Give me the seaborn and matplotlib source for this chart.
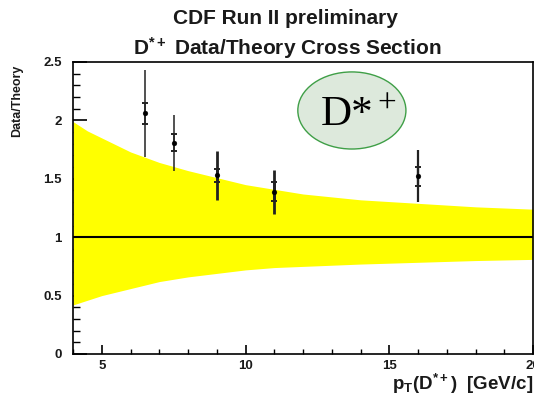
import numpy as np
import pandas as pd
import matplotlib
matplotlib.use("Agg")
import matplotlib.pyplot as plt
from matplotlib.patches import Ellipse
from matplotlib.ticker import MultipleLocator
import seaborn as sns

# Theory uncertainty band (Data/Theory = 1 +/- theory error)
band_pt = [4.0, 4.5, 5.0, 5.5, 6.0, 7.0, 8.0, 9.0, 10.0, 11.0, 12.0, 14.0, 16.0, 18.0, 20.0]
band_up = [1.99, 1.91, 1.85, 1.79, 1.73, 1.64, 1.57, 1.51, 1.45, 1.41, 1.37, 1.32, 1.29, 1.26, 1.24]
band_lo = [0.42, 0.46, 0.50, 0.53, 0.56, 0.62, 0.66, 0.69, 0.72, 0.74, 0.75, 0.77, 0.785, 0.80, 0.81]

# Measured Data/Theory ratios
pt = [6.5, 7.5, 9.0, 11.0, 16.0]
ratio = [2.06, 1.81, 1.53, 1.39, 1.52]
stat_up = [2.15, 1.88, 1.58, 1.47, 1.60]
stat_lo = [1.97, 1.74, 1.475, 1.31, 1.44]
tot_up = [2.43, 2.05, 1.74, 1.575, 1.75]
tot_lo = [1.69, 1.57, 1.32, 1.20, 1.30]
bar_width = [1.1, 1.1, 2.0, 2.0, 1.6]

x_ticks = [5, 10, 15, 20]
x_ticklabels = ["5", "10", "15", "20"]
y_ticks = [0, 0.5, 1, 1.5, 2, 2.5]
y_ticklabels = ["0", "0.5", "1", "1.5", "2", "2.5"]

sns.set_theme(style="ticks")
plt.rcParams["font.family"] = ["Liberation Sans", "DejaVu Sans"]
plt.rcParams["mathtext.fontset"] = "custom"
plt.rcParams["mathtext.rm"] = "Liberation Sans:bold"
plt.rcParams["mathtext.bf"] = "Liberation Sans:bold"
plt.rcParams["mathtext.it"] = "Liberation Sans:bold"

W, H = 534, 399
fig = plt.figure(figsize=(W / 100, H / 100), dpi=100)
ax = fig.add_axes([73 / W, 1 - 354 / H, 460 / W, 292 / H])

ax.fill_between(band_pt, band_lo, band_up, color="#ffff00", lw=0, zorder=1)
ax.axhline(1.0, color="black", lw=1.5, zorder=2)

df = pd.DataFrame({"pt": pt, "ratio": ratio})
for i in range(len(pt)):
    r = ratio[i]
    ax.errorbar([pt[i]], [r], yerr=[[r - tot_lo[i]], [tot_up[i] - r]],
                fmt="none", ecolor="#222222", elinewidth=bar_width[i],
                capsize=0, zorder=3)
    ax.errorbar([pt[i]], [r], yerr=[[r - stat_lo[i]], [stat_up[i] - r]],
                fmt="none", ecolor="#222222", elinewidth=bar_width[i],
                capsize=2.0, capthick=1.4, zorder=3)
sns.scatterplot(data=df, x="pt", y="ratio", ax=ax, color="black", s=12,
                marker="o", edgecolor="black", zorder=4)

# Particle label
ax.add_patch(Ellipse((13.7, 2.085), 3.76, 0.66, facecolor="#dde9dc",
                     edgecolor="#3f9f47", lw=1.0, zorder=5))
ax.text(13.55, 2.05, "D*", fontsize=31, family="Liberation Serif",
        ha="center", va="center", color="black", zorder=6)
ax.text(14.92, 2.14, "+", fontsize=24, family="Liberation Serif",
        ha="center", va="center", color="black", zorder=6)

ax.set_xlim(4, 20)
ax.set_ylim(0, 2.5)
ax.set_xticks(x_ticks)
ax.set_xticklabels(x_ticklabels)
ax.set_yticks(y_ticks)
ax.set_yticklabels(y_ticklabels)
ax.xaxis.set_minor_locator(MultipleLocator(1))
ax.yaxis.set_minor_locator(MultipleLocator(0.1))
ax.tick_params(axis="y", which="major", direction="in", length=10,
               width=1.2, color="black", labelsize=9.5, labelcolor="#1a1a1a", pad=8)
ax.tick_params(axis="y", which="minor", direction="in", length=5,
               width=1.0, color="black")
ax.tick_params(axis="x", which="major", direction="in", length=6.5,
               width=1.2, color="black", labelsize=9.5, labelcolor="#1a1a1a", pad=4)
ax.tick_params(axis="x", which="minor", direction="in", length=3.5,
               width=1.0, color="black")
ax.tick_params(top=False, right=False, which="both")
for lab in ax.get_xticklabels() + ax.get_yticklabels():
    lab.set_fontweight("bold")
for s in ax.spines.values():
    s.set_linewidth(1.2)
    s.set_color("black")

ax.set_xlabel("")
ax.set_ylabel("")
fig.text(17 / W, 1 - 65 / H, "Data/Theory", rotation=90, ha="center", va="top",
         fontsize=9, fontweight="bold", color="#1a1a1a")
fig.text(533 / W, 1 - 384 / H, r"$\mathbf{p_T(D^{*+})}$  [GeV/c]", ha="right",
         va="center", fontsize=13.5, fontweight="bold", color="#1a1a1a")

fig.text(285 / W, 1 - 18 / H, "CDF Run II preliminary", ha="center",
         va="center", fontsize=15, fontweight="bold", color="#1a1a1a")
fig.text(287 / W, 1 - 48 / H, r"$\mathbf{D^{*+}}$ Data/Theory Cross Section",
         ha="center", va="center", fontsize=15, fontweight="bold",
         color="#1a1a1a")

fig.savefig("out.png", dpi=100, facecolor="white")
